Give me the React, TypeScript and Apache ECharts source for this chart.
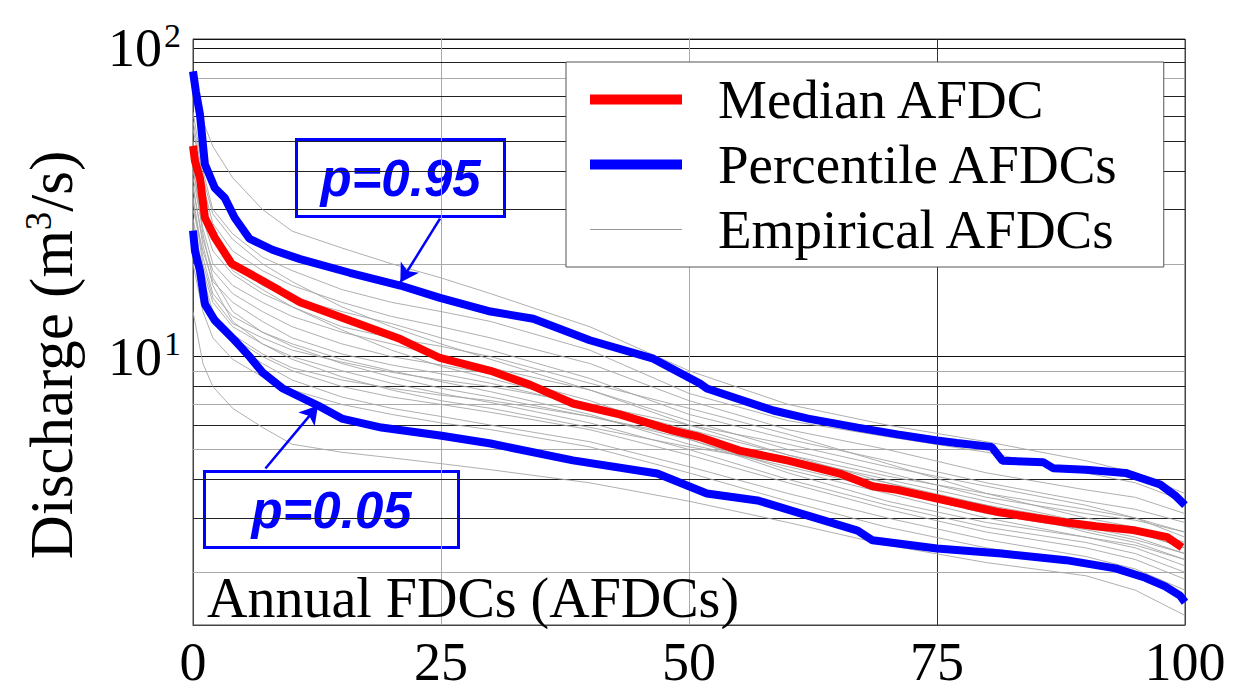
import React, { useEffect, useRef } from "react";
import * as echarts from "echarts";

// ---------- data ----------
const xTicks = [0, 25, 50, 75, 100];

const medianX = [0, 0.2, 0.7, 1.2, 2.2, 3.9, 5.7, 8.7, 10.8, 15.8, 20.9, 24.9, 30, 34, 38.3, 43, 48.4, 51, 55.1, 60, 65.2, 68.5, 71, 75, 78, 81.3, 85, 88, 91, 94.8, 98.2, 99.7];
const medianY = [48.2, 43, 37.9, 28.2, 24.3, 20.0, 18.6, 16.4, 15.0, 13.1, 11.4, 9.9, 9.0, 8.1, 7.05, 6.5, 5.76, 5.5, 4.96, 4.6, 4.18, 3.8, 3.7, 3.47, 3.3, 3.13, 3.0, 2.9, 2.82, 2.74, 2.6, 2.41];

const upperX = [0, 0.3, 0.7, 1.2, 2.2, 3.2, 4.2, 5.7, 8, 10.8, 15.8, 20.9, 24.9, 30, 34.3, 40, 46.4, 51.1, 51.8, 58.5, 62, 67, 71, 75, 77, 80.5, 81.6, 85.7, 86.7, 90, 94, 96, 97.5, 99, 100];
const upperY = [84, 72, 61, 42, 35.2, 32.7, 28.2, 24.1, 22.2, 20.7, 18.7, 17.0, 15.5, 14.0, 13.27, 11.3, 9.85, 8.18, 7.88, 6.69, 6.3, 5.89, 5.6, 5.35, 5.25, 5.1, 4.6, 4.55, 4.35, 4.3, 4.2, 4.0, 3.85, 3.55, 3.3];

const lowerX = [0, 0.2, 0.7, 1.2, 2.2, 4.2, 5.7, 7, 9, 10.8, 12.6, 15, 19, 24.9, 30, 38.3, 46.8, 51.8, 56.9, 61.9, 67, 68.5, 75, 81.5, 88, 93, 96, 98, 99.5, 100];
const lowerY = [25.6, 22, 19, 14.8, 13.1, 11.3, 10.0, 8.9, 7.9, 7.4, 6.94, 6.3, 5.89, 5.55, 5.23, 4.61, 4.18, 3.6, 3.42, 3.06, 2.73, 2.54, 2.39, 2.3, 2.19, 2.06, 1.92, 1.8, 1.68, 1.6];

// empirical annual FDCs, sampled at these exceedance percentages
const empX = [0, 1, 2, 4, 7, 10, 15, 20, 25, 30, 40, 50, 60, 70, 80, 90, 95, 100];
const emp01 = [70, 58, 48, 38, 30, 25.5, 22.5, 20, 18, 16, 12.5, 9, 7, 6, 5.3, 4.6, 4.2, 3.6];
const emp02 = [14, 9.5, 8, 6.8, 5.9, 5.2, 4.9, 4.7, 4.5, 4.3, 3.9, 3.4, 2.9, 2.45, 2.15, 1.95, 1.75, 1.45];
const emp03 = [62, 40, 30, 25, 21, 19, 16.5, 15, 14, 13, 10.5, 7.6, 6.2, 5.5, 4.9, 4.2, 3.9, 3.4];
const emp04 = [55, 36, 27, 22, 19, 17, 15, 13.5, 12.5, 11.5, 9.5, 7.2, 5.8, 5.0, 4.2, 3.7, 3.5, 3.1];
const emp05 = [45, 30, 24, 20, 17, 15.5, 14, 12.8, 11.5, 10.5, 8.5, 6.5, 5.4, 4.6, 3.9, 3.4, 3.2, 2.9];
const emp06 = [40, 28, 22, 18.5, 16, 14.5, 12.5, 11.5, 10.8, 10, 8.2, 6.8, 5.6, 4.5, 3.6, 3.0, 2.8, 2.5];
const emp07 = [38, 26, 20, 17, 15, 13.5, 12, 11, 10, 9.2, 7.8, 6.2, 5.0, 4.2, 3.5, 3.1, 2.95, 2.7];
const emp08 = [35, 24, 19, 16, 14, 12.5, 11, 10, 9.4, 8.8, 7.2, 5.6, 4.5, 3.8, 3.3, 2.9, 2.7, 2.4];
const emp09 = [50, 32, 24, 19, 16.5, 14.5, 12.2, 10.5, 9.3, 8.5, 7.0, 6.0, 5.2, 4.4, 3.8, 3.3, 3.0, 2.6];
const emp10 = [30, 22, 17.5, 15, 13, 11.5, 10.2, 9.4, 8.8, 8.2, 6.9, 5.4, 4.3, 3.6, 3.0, 2.6, 2.45, 2.2];
const emp11 = [33, 21, 16, 13.5, 12, 11, 9.8, 9.0, 8.3, 7.7, 6.5, 5.2, 4.4, 3.7, 3.1, 2.75, 2.55, 2.3];
const emp12 = [28, 19, 15, 12.5, 11, 10, 9.0, 8.2, 7.6, 7.1, 6.1, 5.0, 4.0, 3.3, 2.8, 2.5, 2.3, 2.0];
const emp13 = [42, 25, 18, 14, 12, 10.8, 9.5, 8.6, 7.9, 7.4, 6.4, 5.5, 4.7, 4.0, 3.4, 2.9, 2.7, 2.4];
const emp14 = [26, 18, 14, 11.5, 10, 9.0, 8.0, 7.4, 7.0, 6.6, 5.8, 4.8, 3.9, 3.2, 2.7, 2.4, 2.2, 1.9];
const emp15 = [24, 16.5, 13, 11, 9.5, 8.4, 7.4, 6.8, 6.4, 6.0, 5.3, 4.4, 3.6, 3.0, 2.55, 2.25, 2.05, 1.75];
const emp16 = [36, 23, 17, 13, 11, 9.8, 8.6, 7.8, 7.2, 6.8, 5.9, 5.1, 4.5, 3.9, 3.3, 2.7, 2.5, 2.2];
const emp17 = [20, 14, 11.5, 9.8, 8.6, 7.8, 7.0, 6.5, 6.1, 5.8, 5.1, 4.2, 3.4, 2.8, 2.4, 2.15, 1.95, 1.65];
const emp18 = [58, 38, 29, 24, 20, 17.5, 14.5, 12.5, 11, 9.8, 7.8, 6.0, 4.8, 4.1, 3.6, 3.2, 3.0, 2.7];
const emp19 = [32, 20, 15.5, 12.8, 11.5, 10.5, 9.6, 8.9, 8.4, 8.0, 7.0, 5.8, 4.8, 3.9, 3.2, 2.8, 2.6, 2.3];
const emp20 = [27, 17, 13.5, 11.8, 10.2, 9.2, 8.4, 7.9, 7.5, 7.2, 6.4, 5.4, 4.2, 3.4, 2.9, 2.6, 2.4, 2.1];
const empiricalCurves = [emp01, emp02, emp03, emp04, emp05, emp06, emp07, emp08, emp09, emp10, emp11, emp12, emp13, emp14, emp15, emp16, emp17, emp18, emp19, emp20];

// minor log grid lines
const darkGridValues = [3, 4, 6, 8, 30, 40, 50, 60, 70, 90];
const lightGridValues = [2, 5, 7, 9, 20, 80];

// annotation arrows (data units): [tail, head]
const arrow95 = [[24.9, 28.0], [20.9, 17.4]];
const arrow05 = [[7.3, 4.34], [12.6, 6.94]];

const SERIF = "Liberation Serif";
const SANS = "Liberation Sans";
const BLUE = "#0000ff";
const RED = "#ff0000";
const GRAY = "#a6a6a6";

const zip = (xs: number[], ys: number[]) => xs.map((x, i) => [x, ys[i]]);

export default function App() {
  const ref = useRef<HTMLDivElement>(null);
  useEffect(() => {
    if (!ref.current) return;
    const chart = echarts.init(ref.current, null, { renderer: "svg" });

    const isPow10 = (v: number) => {
      const l = Math.log10(v);
      return Math.abs(l - Math.round(l)) < 1e-6;
    };

    const empSeries = empiricalCurves.map((c, i) => ({
      type: "line",
      name: "Empirical AFDCs",
      data: zip(empX, c),
      symbol: "none",
      silent: true,
      z: 2,
      lineStyle: { color: GRAY, width: 0.9 },
      itemStyle: { color: GRAY },
      ...(i === 0
        ? {
            markLine: {
              silent: true,
              symbol: "none",
              label: { show: false },
              animation: false,
              z: 1,
              data: [
                ...darkGridValues.map((v) => ({ yAxis: v, lineStyle: { color: "#222", width: 1, type: "solid" } })),
                ...lightGridValues.map((v) => ({ yAxis: v, lineStyle: { color: "#aaa", width: 1, type: "solid" } })),
              ],
            },
          }
        : {}),
    }));

    const arrowLine = (a: number[][]) => [{ coord: a[0] }, { coord: a[1] }];

    const option: any = {
      animation: false,
      backgroundColor: "#fff",
      grid: { left: 193, right: 54, top: 39, bottom: 66, show: true, borderColor: "#444", borderWidth: 1, backgroundColor: "transparent" },
      xAxis: {
        type: "value",
        min: 0,
        max: 100,
        interval: 25,
        axisLine: { show: true, lineStyle: { color: "#444" } },
        axisTick: { show: false },
        axisLabel: {
          fontFamily: SERIF,
          fontSize: 54,
          color: "#000",
          margin: 10,
          formatter: (v: number) => (xTicks.includes(v) ? String(v) : ""),
        },
        splitLine: { show: true, lineStyle: { color: ["#444", "#aaa", "#aaa", "#333", "#444"], width: 1 } },
      },
      yAxis: {
        type: "log",
        logBase: 10,
        min: 1.35,
        max: 107,
        axisLine: { show: true, lineStyle: { color: "#444" } },
        axisTick: { show: false },
        splitLine: { show: true, lineStyle: { color: "#111", width: 1 } },
        axisLabel: {
          fontFamily: SERIF,
          fontSize: 54,
          color: "#000",
          margin: 12,
          formatter: (v: number) => (isPow10(v) ? "10{s|" + Math.round(Math.log10(v)) + "}" : ""),
          rich: {
            s: { fontFamily: SERIF, fontSize: 34, verticalAlign: "top", padding: [0, 0, 26, 2] },
          },
        },
        name: "Discharge (m{s|3}/s)",
        nameLocation: "middle",
        nameGap: 110,
        nameTextStyle: {
          fontFamily: SERIF,
          fontSize: 61,
          color: "#000",
          padding: [0, 46, 0, 0],
          rich: { s: { fontFamily: SERIF, fontSize: 37, verticalAlign: "top", padding: [0, 0, 26, 0] } },
        },
      },
      legend: {
        show: true,
        orient: "vertical",
        left: 566,
        top: 62,
        backgroundColor: "#fff",
        borderColor: "#555",
        borderWidth: 1,
        padding: [10, 44, 10, 24],
        itemGap: 10,
        itemWidth: 92,
        itemHeight: 10,
        selectedMode: false,
        textStyle: { fontFamily: SERIF, fontSize: 55, color: "#000", padding: [0, 0, 0, 31] },
        data: [
          { name: "Median AFDC", icon: "rect", itemStyle: { color: RED } },
          { name: "Percentile AFDCs", icon: "rect", itemStyle: { color: BLUE } },
          { name: "Empirical AFDCs", icon: "path://M0,0 L92,0 L92,1.2 L0,1.2 Z", itemStyle: { color: "#999" } },
        ],
      },
      graphic: [
        {
          type: "text",
          left: 207,
          top: 570,
          z: 50,
          style: { text: "Annual FDCs (AFDCs)", fontFamily: SERIF, fontSize: 56, fill: "#000" },
        },
        {
          type: "group",
          left: 295,
          top: 138,
          z: 60,
          children: [
            { type: "rect", shape: { x: 0, y: 0, width: 208, height: 77 }, style: { fill: "#fff", stroke: BLUE, lineWidth: 3 } },
            {
              type: "text",
              x: 104,
              y: 39,
              style: { text: "p=0.95", fontFamily: SANS, fontWeight: "bold", fontStyle: "italic", fontSize: 51, fill: BLUE, align: "center", verticalAlign: "middle" },
            },
          ],
        },
        {
          type: "group",
          left: 203,
          top: 470,
          z: 60,
          children: [
            { type: "rect", shape: { x: 0, y: 0, width: 254, height: 76 }, style: { fill: "#fff", stroke: BLUE, lineWidth: 3 } },
            {
              type: "text",
              x: 127,
              y: 39,
              style: { text: "p=0.05", fontFamily: SANS, fontWeight: "bold", fontStyle: "italic", fontSize: 51, fill: BLUE, align: "center", verticalAlign: "middle" },
            },
          ],
        },
      ],
      series: [
        ...empSeries,
        {
          type: "line",
          name: "Percentile AFDCs",
          data: zip(upperX, upperY),
          symbol: "none",
          silent: true,
          z: 3,
          lineStyle: { color: BLUE, width: 8 },
          itemStyle: { color: BLUE },
          markLine: {
            silent: true,
            symbol: ["none", "arrow"],
            symbolSize: [16, 18],
            label: { show: false },
            lineStyle: { color: BLUE, width: 2.5, type: "solid" },
            data: [arrowLine(arrow95), arrowLine(arrow05)],
          },
        },
        {
          type: "line",
          name: "Percentile AFDCs",
          data: zip(lowerX, lowerY),
          symbol: "none",
          silent: true,
          z: 3,
          lineStyle: { color: BLUE, width: 8 },
          itemStyle: { color: BLUE },
        },
        {
          type: "line",
          name: "Median AFDC",
          data: zip(medianX, medianY),
          symbol: "none",
          silent: true,
          z: 4,
          lineStyle: { color: RED, width: 8 },
          itemStyle: { color: RED },
        },
      ],
    };

    chart.setOption(option);
    return () => chart.dispose();
  }, []);

  return <div ref={ref} style={{ position: "absolute", left: 0, top: 0, width: 1239, height: 691 }} />;
}
